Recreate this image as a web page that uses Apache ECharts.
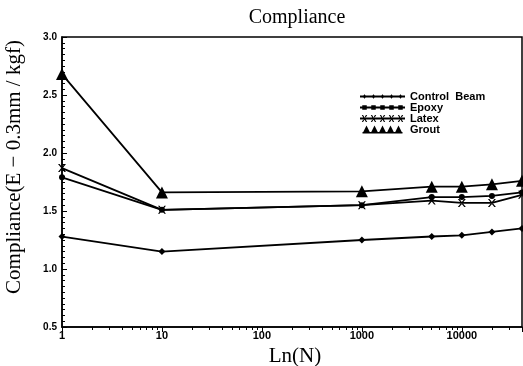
<!DOCTYPE html>
<html>
<head>
<meta charset="utf-8">
<script src="https://cdn.jsdelivr.net/npm/echarts@6/dist/echarts.min.js"></script>
<style>html,body{margin:0;padding:0;background:#fff;}#c{width:523px;height:366px;}</style>
</head>
<body>
<div id="c"></div>
<script>
const cycles = [1, 10, 1000, 5000, 10000, 20000, 40000];
const controlBeam = [1.28, 1.15, 1.25, 1.28, 1.29, 1.32, 1.35];
const epoxy = [1.79, 1.51, 1.55, 1.62, 1.62, 1.63, 1.66];
const latex = [1.87, 1.51, 1.55, 1.59, 1.57, 1.57, 1.64];
const grout = [2.68, 1.66, 1.67, 1.71, 1.71, 1.73, 1.76];
const seriesNames = ['Control  Beam', 'Epoxy', 'Latex', 'Grout'];
const xTickLabels = ['1', '10', '100', '1000', '10000'];
const yTicks = [0.5, 1.0, 1.5, 2.0, 2.5, 3.0];

function pairs(vals) { return cycles.map((c, i) => [c, vals[i]]); }

const strip = 'M0,4 L50,4 L50,6 L0,6 Z ';
function rep(fn) { let s = strip; for (let x = 5; x < 50; x += 10) s += fn(x); return 'path://' + s; }
const iconControl = rep(x => `M${x},2.5 L${x+2.2},5 L${x},7.5 L${x-2.2},5 Z `);
const iconEpoxy = rep(x => `M${x-2.5},2.5 L${x+2.5},2.5 L${x+2.5},7.5 L${x-2.5},7.5 Z `);
const iconLatex = rep(x => `M${x-3},1 L${x-1.6},1 L${x+3},9 L${x+1.6},9 Z M${x+3},1 L${x+1.6},1 L${x-3},9 L${x-1.6},9 Z `);
const iconGrout = 'path://' + (() => { let s = 'M0,8 L50,8 L50,10 L0,10 Z '; for (let x = 0; x < 50; x += 10) s += `M${x},10 L${x+5},0 L${x+10},10 Z `; return s; })();
const icons = [iconControl, iconEpoxy, iconLatex, iconGrout];

const xSym = 'path://M0,0 L2,0 L10,10 L8,10 Z M10,0 L8,0 L0,10 L2,10 Z';

const chart = echarts.init(document.getElementById('c'), null, {renderer: 'canvas'});
const serif = '"Liberation Serif", "DejaVu Serif", serif';
const sans = '"Liberation Sans", Arial, sans-serif';

function mkSeries(name, vals, symbol, size, lw) {
  return {
    name: name, type: 'line', data: pairs(vals),
    symbol: symbol, symbolSize: size, showSymbol: true,
    lineStyle: {color: '#000', width: lw},
    itemStyle: {color: '#000'},
    animation: false
  };
}

chart.setOption({
  animation: false,
  backgroundColor: '#fff',
  title: {
    text: 'Compliance', left: 297, textAlign: 'center', top: 8, padding: 0,
    textStyle: {fontFamily: serif, fontSize: 20, fontWeight: 'normal', color: '#000'}
  },
  legend: {
    orient: 'vertical', left: 360, top: 91, padding: 0, itemGap: 0,
    itemWidth: 45, itemHeight: 8,
    data: seriesNames.map((n, i) => ({name: n, icon: icons[i]})),
    textStyle: {fontFamily: sans, fontSize: 11, fontWeight: 'bold', color: '#000'}
  },
  grid: {left: 62, right: 1, top: 37, bottom: 39, show: true, borderColor: '#000', borderWidth: 1.5,
    containLabel: false, outerBoundsMode: 'none'},
  xAxis: {
    type: 'log', logBase: 10, min: 1, max: 40000,
    name: 'Ln(N)', nameLocation: 'middle', nameGap: 11,
    nameTextStyle: {fontFamily: serif, fontSize: 21, color: '#000', padding: [0, 0, 0, 6]},
    axisLine: {lineStyle: {color: '#000', width: 1.5}},
    axisTick: {show: true, inside: false, length: 5, lineStyle: {color: '#000'}},
    minorTick: {show: true, splitNumber: 9, length: 3, lineStyle: {color: '#000'}},
    axisLabel: {fontFamily: sans, fontSize: 11, fontWeight: 'bold', color: '#000', margin: 3,
      showMaxLabel: false,
      formatter: v => { const s = String(Math.round(v)); return xTickLabels.indexOf(s) >= 0 ? s : ''; }},
    splitLine: {show: false}
  },
  yAxis: {
    type: 'value', min: 0.5, max: 3.0, interval: 0.5,
    name: 'Compliance(E − 0.3mm / kgf)', nameLocation: 'middle', nameGap: 37,
    nameTextStyle: {fontFamily: serif, fontSize: 21, color: '#000', padding: [0, 0, 0, 30]},
    axisLine: {lineStyle: {color: '#000', width: 1.5}},
    axisTick: {show: true, inside: true, length: 5, lineStyle: {color: '#000'}},
    minorTick: {show: true, splitNumber: 10, length: 3, lineStyle: {color: '#000'}},
    axisLabel: {fontFamily: sans, fontSize: 10, fontWeight: 'bold', color: '#000', margin: 5,
      formatter: v => yTicks.indexOf(v) >= 0 ? v.toFixed(1) : ''},
    splitLine: {show: false}
  },
  series: [
    mkSeries(seriesNames[0], controlBeam, 'diamond', 7, 1.8),
    mkSeries(seriesNames[1], epoxy, 'circle', 6, 1.8),
    mkSeries(seriesNames[2], latex, xSym, 8, 1.8),
    mkSeries(seriesNames[3], grout, 'triangle', 12, 1.8)
  ]
});
</script>
</body>
</html>
